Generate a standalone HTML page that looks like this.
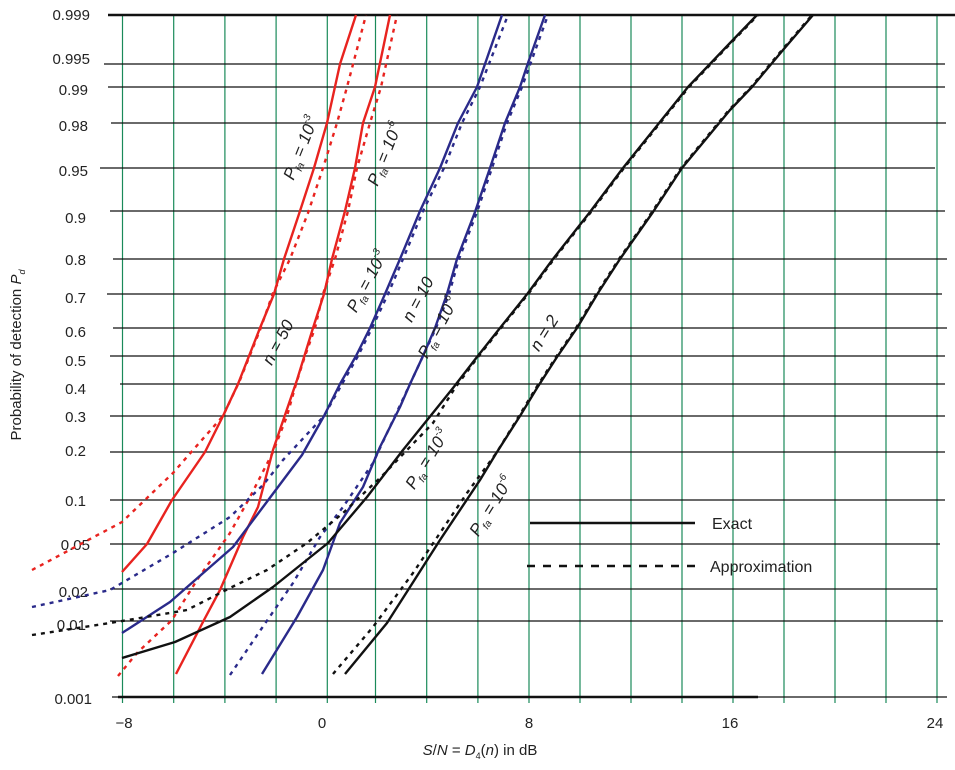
<!DOCTYPE html>
<html><head><meta charset="utf-8"><style>
html,body{margin:0;padding:0;background:#fff;}
svg{display:block;font-family:"Liberation Sans",sans-serif;}
</style></head><body>
<svg width="955" height="770" viewBox="0 0 955 770" xmlns="http://www.w3.org/2000/svg">
<g stroke="#1a8a5a" stroke-width="1.2">
<line x1="122.5" y1="15" x2="122.5" y2="703"/><line x1="173.7" y1="15" x2="173.7" y2="703"/><line x1="224.9" y1="15" x2="224.9" y2="703"/><line x1="276.1" y1="15" x2="276.1" y2="703"/><line x1="327.3" y1="15" x2="327.3" y2="703"/><line x1="375.5" y1="15" x2="375.5" y2="703"/><line x1="426.7" y1="15" x2="426.7" y2="703"/><line x1="477.9" y1="15" x2="477.9" y2="703"/><line x1="529" y1="15" x2="529" y2="703"/><line x1="580" y1="15" x2="580" y2="703"/><line x1="631" y1="15" x2="631" y2="703"/><line x1="682" y1="15" x2="682" y2="703"/><line x1="733" y1="15" x2="733" y2="703"/><line x1="784" y1="15" x2="784" y2="703"/><line x1="835" y1="15" x2="835" y2="703"/><line x1="886" y1="15" x2="886" y2="703"/><line x1="937" y1="15" x2="937" y2="703"/>
</g>
<g stroke="#111" stroke-width="1.2">
<line x1="104" y1="64" x2="945" y2="64"/><line x1="108" y1="87" x2="945" y2="87"/><line x1="111" y1="123" x2="946" y2="123"/><line x1="100" y1="168" x2="935" y2="168"/><line x1="110" y1="211" x2="945" y2="211"/><line x1="113" y1="259" x2="947" y2="259"/><line x1="107" y1="294" x2="942" y2="294"/><line x1="113" y1="328" x2="947" y2="328"/><line x1="110" y1="356" x2="945" y2="356"/><line x1="120" y1="384" x2="945" y2="384"/><line x1="110" y1="416" x2="945" y2="416"/><line x1="110" y1="452" x2="945" y2="452"/><line x1="110" y1="500" x2="945" y2="500"/><line x1="110" y1="544" x2="940" y2="544"/><line x1="110" y1="589" x2="937" y2="589"/><line x1="110" y1="621" x2="943" y2="621"/><line x1="112" y1="697" x2="947" y2="697"/>
</g>
<line x1="108" y1="15" x2="955" y2="15" stroke="#111" stroke-width="2.5"/>
<line x1="118" y1="697" x2="758" y2="697" stroke="#111" stroke-width="2.5"/>
<g font-size="15" fill="#222" text-anchor="end">
<text x="90" y="20">0.999</text><text x="90" y="64">0.995</text><text x="88" y="95">0.99</text><text x="88" y="131">0.98</text><text x="88" y="176">0.95</text><text x="86" y="223">0.9</text><text x="86" y="265">0.8</text><text x="86" y="303">0.7</text><text x="86" y="337">0.6</text><text x="86" y="366">0.5</text><text x="86" y="394">0.4</text><text x="86" y="422">0.3</text><text x="86" y="456">0.2</text><text x="86" y="506">0.1</text><text x="90" y="550">0.05</text><text x="88" y="597">0.02</text><text x="86" y="630">0.01</text><text x="92" y="704">0.001</text>
</g>
<g font-size="15" fill="#222" text-anchor="middle">
<text x="124" y="728">−8</text><text x="322" y="728">0</text><text x="529" y="728">8</text><text x="730" y="728">16</text><text x="935" y="728">24</text>
<text x="480" y="755"><tspan font-style="italic">S</tspan>/<tspan font-style="italic">N</tspan> = <tspan font-style="italic">D</tspan><tspan font-size="9" dy="4">4</tspan><tspan dy="-4">(</tspan><tspan font-style="italic">n</tspan>) in dB</text>
</g>
<text transform="translate(21,355) rotate(-90)" font-size="15" fill="#222" text-anchor="middle">Probability of detection <tspan font-style="italic">P</tspan><tspan font-size="9" dy="4" font-style="italic">d</tspan></text>
<g fill="none" stroke-width="2.4" stroke-linejoin="round">
<polyline stroke="#e8231f" points="122,572 147,544 172,500 205,452 223,416 238,384 260,328 274,294 284,259 300,211 314,168 327,123 340,64 356,15"/>
<polyline stroke="#e8231f" stroke-dasharray="4,5" points="32,570 122,522 173,473 193,450 223,416 240,380 260,330 273,293 290,259 308,213 323,168 337,123 347,87 366,15"/>
<polyline stroke="#e8231f" points="176,674 204,620 220,590 243,537 258,507 273,450 297,380 313,328 324,294 332,259 345,211 355,168 363,123 375,87 390,15"/>
<polyline stroke="#e8231f" stroke-dasharray="4,5" points="118,676 137,653 172,620 197,580 230,533 250,497 273,452 287,416 296,384 305,356 315,328 323,294 335,259 348,211 357,168 370,123 381,87 397,15"/>
<polyline stroke="#2a2a8a" points="122,633 170,602 233,547 272,495 302,455 324,416 340,384 356,356 370,328 385,294 400,259 420,211 440,168 458,123 477,87 502,15"/>
<polyline stroke="#2a2a8a" stroke-dasharray="4,5" points="32,607 110,590 173,553 230,517 263,485 283,460 324,416 342,384 358,356 372,328 388,294 403,259 423,211 444,168 462,123 480,87 508,15"/>
<polyline stroke="#2a2a8a" points="262,674 297,617 323,570 340,523 363,487 380,447 400,407 410,384 423,356 435,328 447,294 457,259 475,212 490,168 505,123 520,87 528,63 545,15"/>
<polyline stroke="#2a2a8a" stroke-dasharray="4,5" points="230,675 264,625 293,583 320,537 343,507 373,463 395,416 410,384 423,356 436,328 449,294 459,259 477,212 492,168 507,123 522,87 548,15"/>
<polyline stroke="#111" points="122,658 175,642 230,617 273,587 328,543 367,497 403,450 453,388 477,357 500,328 528,293 553,259 590,212 623,168 680,97 688,87 730,43 757,15"/>
<polyline stroke="#111" stroke-dasharray="4,5" points="32,635 110,623 140,618 187,610 230,588 267,570 307,543 343,513 383,475 433,423 455,388 478,357 501,328 529,293 554,259 591,212 624,168 681,97 689,87 731,43 758,15"/>
<polyline stroke="#111" points="345,674 387,623 410,587 440,540 480,480 497,452 520,416 537,388 557,357 577,328 598,293 620,259 653,212 682,168 730,110 752,87 783,50 813,15"/>
<polyline stroke="#111" stroke-dasharray="4,5" points="333,674 373,627 413,573 467,493 497,452 519,416 536,388 556,357 576,328 597,293 619,259 652,212 681,168 729,110 751,87 782,50 812,15"/>
<line x1="530" y1="523" x2="695" y2="523" stroke="#111"/>
<line x1="527" y1="566" x2="697" y2="566" stroke="#111" stroke-dasharray="8,8"/>
</g>
<g font-size="16" fill="#222">
<text x="712" y="529">Exact</text><text x="710" y="572">Approximation</text>
</g>
<g font-size="17" fill="#222" font-style="italic" text-anchor="middle">
<g transform="translate(306,150) rotate(-68)"><text>P<tspan font-size="10" dy="4">fa</tspan><tspan dy="-4"> = 10</tspan><tspan font-size="10" dy="-8">-3</tspan></text></g>
<g transform="translate(390,156) rotate(-68)"><text>P<tspan font-size="10" dy="4">fa</tspan><tspan dy="-4"> = 10</tspan><tspan font-size="10" dy="-8">-6</tspan></text></g>
<g transform="translate(372,284) rotate(-62)"><text>P<tspan font-size="10" dy="4">fa</tspan><tspan dy="-4"> = 10</tspan><tspan font-size="10" dy="-8">-3</tspan></text></g>
<g transform="translate(443,330) rotate(-62)"><text>P<tspan font-size="10" dy="4">fa</tspan><tspan dy="-4"> = 10</tspan><tspan font-size="10" dy="-8">-6</tspan></text></g>
<g transform="translate(283,345) rotate(-62)"><text>n = 50</text></g>
<g transform="translate(423,302) rotate(-62)"><text>n = 10</text></g>
<g transform="translate(549,336) rotate(-58)"><text>n = 2</text></g>
<g transform="translate(432,462) rotate(-58)"><text>P<tspan font-size="10" dy="4">fa</tspan><tspan dy="-4"> = 10</tspan><tspan font-size="10" dy="-8">-3</tspan></text></g>
<g transform="translate(496,509) rotate(-58)"><text>P<tspan font-size="10" dy="4">fa</tspan><tspan dy="-4"> = 10</tspan><tspan font-size="10" dy="-8">-6</tspan></text></g>
</g>
</svg>
</body></html>
